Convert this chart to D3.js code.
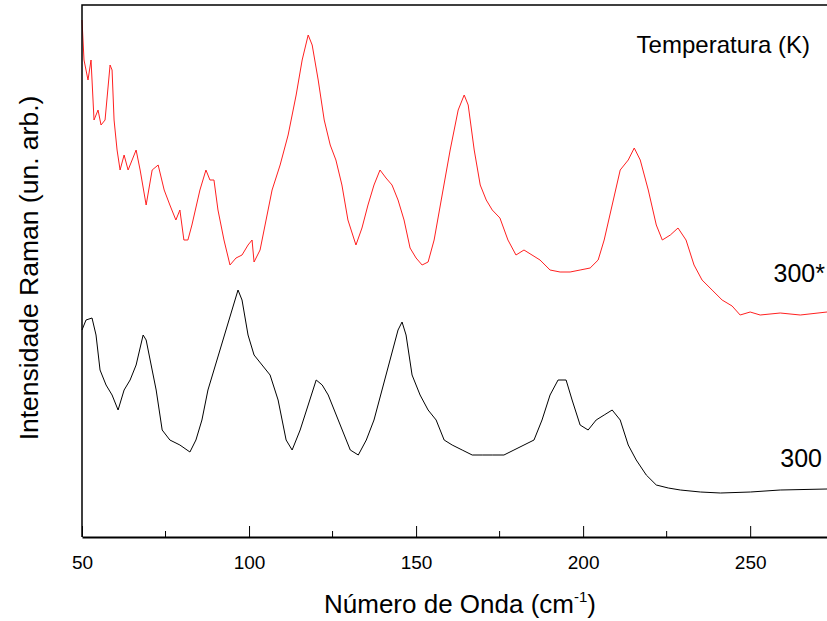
<!DOCTYPE html>
<html><head><meta charset="utf-8">
<script src="https://cdn.jsdelivr.net/npm/d3@7"></script>
<style>body{margin:0;background:#fff}text{font-family:Arial,"Liberation Sans",sans-serif}</style>
</head><body><div id="chart"></div>
<script>
// Raman spectra, wavenumber (cm-1) vs intensity (arb. units)
var redX = [50,50.6,51.8,52.7,53.6,54.8,55.7,56.9,58.4,59.0,59.6,60.5,61.4,62.6,63.8,65.0,66.2,67.4,69.2,71.0,72.8,74.6,76.3,78.1,79.3,80.5,81.7,82.9,85.3,87.1,88.3,89.5,90.7,92.5,94.3,96.1,97.9,99.7,100.9,101.5,103.3,105.1,106.9,109.3,111.7,114.1,115.9,117.7,118.9,120.7,122.5,124.3,126.0,127.8,129.6,132.0,133.8,135.6,137.4,139.2,141.0,142.8,144.6,146.4,148.2,150.0,151.8,153.6,155.4,157.8,160.2,162.6,164.4,165.6,167.4,169.2,171.0,172.8,175.1,177.5,179.9,182.3,184.7,187.1,190.1,193.1,196.1,199.1,202.1,204.5,206.3,208.7,211.1,213.5,215.3,217.1,219.5,221.9,223.7,226.1,228.4,230.8,233.2,235.6,238.6,241.6,244.6,247.0,250.0,253.0,259.0,265.0,273.0];
var redY = [517,477,457,477,417,427,412,417,472,467,417,387,367,382,367,377,387,367,332,367,372,347,332,317,327,297,297,312,347,367,357,357,327,297,272,279,282,292,297,275,287,317,347,372,402,442,477,502,492,457,417,392,377,352,317,292,309,332,352,367,359,352,337,317,289,279,272,275,297,342,387,427,442,432,387,352,337,327,319,297,282,287,282,277,267,265,265,267,269,277,297,332,367,377,389,377,347,312,297,302,309,297,272,257,247,237,231,222,225,222,224,222,225];
var blackX = [50,51.2,53.0,54.2,55.4,57.2,59.0,60.8,62.6,64.4,66.2,68.3,69.2,70.4,72.2,74.0,76.3,79.3,82.3,84.1,85.9,87.7,89.5,91.3,93.1,94.9,96.7,97.9,99.7,101.5,103.9,106.3,108.7,111.1,112.9,115.3,117.7,120.1,121.9,123.7,125.5,127.9,130.3,132.7,135.1,137.4,139.8,142.2,144.6,145.8,147.0,148.8,151.2,153.6,156.0,158.4,160.8,163.8,166.8,169.8,172.8,176.3,179.3,182.3,185.3,187.7,190.1,192.5,194.9,196.7,199.1,201.5,203.9,206.3,208.7,211.1,213.5,215.9,218.9,221.9,225.5,229.1,235.1,241.1,250.1,259.0,273.0];
var blackY = [207,217,219,202,167,152,142,127,147,157,172,202,197,177,147,107,97,92,85,97,117,147,167,187,207,227,247,237,202,182,172,162,137,97,87,107,132,157,152,142,127,107,87,82,97,117,147,177,207,215,202,162,142,127,117,97,92,87,82,82,82,82,87,92,97,117,142,157,157,137,112,107,117,122,127,117,92,77,62,52,49,47,45,44,45,47,48];
var majorTicks = [50,100,150,200,250];
var minorTicks = [75,125,175,225];

var svg = d3.select("#chart").append("svg").attr("width", 827).attr("height", 621);
var x = d3.scaleLinear().domain([50, 273]).range([82, 827]);
var y = d3.scaleLinear().domain([0, 532]).range([537, 5]);

var line = d3.line().x(d => x(d[0])).y(d => y(d[1]));
svg.append("path").datum(d3.zip(redX, redY)).attr("d", line)
  .attr("fill", "none").attr("stroke", "#ff2020").attr("stroke-width", 1);
svg.append("path").datum(d3.zip(blackX, blackY)).attr("d", line)
  .attr("fill", "none").attr("stroke", "#000").attr("stroke-width", 1);

// frame
svg.append("path").attr("d", "M82,537V5H827").attr("fill", "none").attr("stroke", "#000").attr("stroke-width", 1.5);

var xAxis = svg.append("g").attr("transform", "translate(0,537)")
  .call(d3.axisBottom(x).tickValues(majorTicks).tickSize(-11).tickPadding(19).tickSizeOuter(0));
xAxis.select(".domain").attr("stroke-width", 2);
xAxis.selectAll("text").style("font-size", "19px").style("font-family", "Arial");
svg.append("g").selectAll("line").data(minorTicks).join("line")
  .attr("x1", d => x(d)).attr("x2", d => x(d)).attr("y1", 537).attr("y2", 531).attr("stroke", "#000");

svg.append("text").attr("x", 460).attr("y", 613).attr("text-anchor", "middle").attr("font-size", 26)
  .html('Número de Onda (cm<tspan dy="-11" font-size="15">-1</tspan><tspan dy="11">)</tspan>');
svg.append("text").attr("transform", "translate(38,268) rotate(-90)").attr("text-anchor", "middle")
  .attr("font-size", 26.5).text("Intensidade Raman (un. arb.)");
svg.append("text").attr("x", 810).attr("y", 53).attr("text-anchor", "end").attr("font-size", 24).text("Temperatura (K)");
svg.append("text").attr("x", 825).attr("y", 282).attr("text-anchor", "end").attr("font-size", 25).text("300*");
svg.append("text").attr("x", 822).attr("y", 467).attr("text-anchor", "end").attr("font-size", 25).text("300");
</script></body></html>
